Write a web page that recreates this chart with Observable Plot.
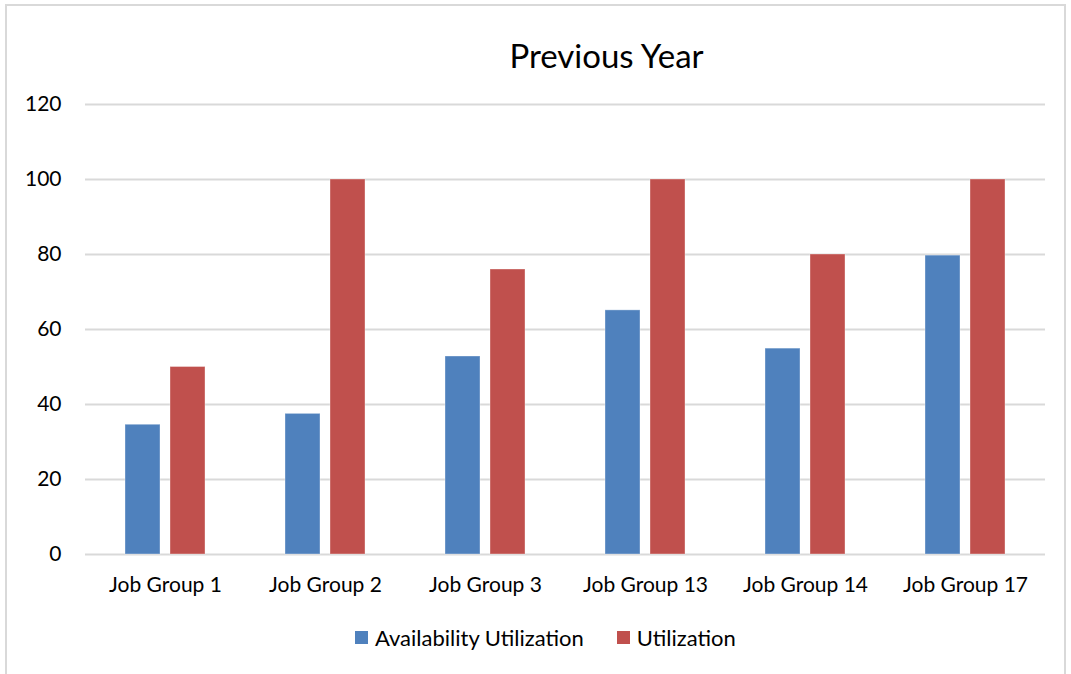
<!DOCTYPE html>
<html><head><meta charset="utf-8">
<script src="https://cdn.jsdelivr.net/npm/d3@7"></script>
<script src="https://cdn.jsdelivr.net/npm/@observablehq/plot@0.6"></script>
<style>
body{margin:0;background:#fff;font-family:Lato,"Open Sans",sans-serif;}
#frame{position:absolute;left:5px;top:4px;width:1061px;height:700px;border:2px solid #d9d9d9;box-sizing:border-box;}
#title{position:absolute;left:0;width:1071px;top:35px;text-align:center;font-size:33px;color:#000;padding-left:142px;box-sizing:border-box;line-height:40px;}
#chart{position:absolute;left:0;top:84px;}
#legend{position:absolute;left:355px;top:624px;display:flex;align-items:center;font-size:22px;color:#000;}
.sw{display:inline-block;width:13px;height:13px;margin-right:7px;}
.item{display:flex;align-items:center;margin-right:33px;}
</style></head>
<body>
<div id="frame"></div>
<div id="title">Previous Year</div>
<div id="chart"></div>
<div id="legend"></div>
<script>
const categories = ["Job Group 1","Job Group 2","Job Group 3","Job Group 13","Job Group 14","Job Group 17"];
const seriesNames = ["Availability Utilization","Utilization"];
const availability = [34.6, 37.5, 52.8, 65.1, 54.9, 79.7];
const utilization = [50, 100, 76, 100, 80, 100];
const seriesColors = ["#4F81BD","#C0504D"];
const yTicks = [0,20,40,60,80,100,120];

const data = [];
categories.forEach((c,i)=>{
  data.push({cat:c, series:seriesNames[0], value:availability[i]});
  data.push({cat:c, series:seriesNames[1], value:utilization[i]});
});

const plot = Plot.plot({
  width:1071, height:520,
  marginTop:20, marginBottom:50, marginLeft:82, marginRight:24,
  style:{fontFamily:"Lato, 'Open Sans', sans-serif", fontSize:"21px", color:"#000", background:"transparent"},
  fx:{domain:categories, padding:0, label:null, tickSize:0, tickPadding:23, axis:"bottom"},
  x:{domain:seriesNames, paddingInner:0.2174, paddingOuter:0.8565, axis:null},
  y:{domain:[0,120], ticks:yTicks, tickSize:0, tickPadding:24, label:null, grid:false},
  color:{domain:seriesNames, range:seriesColors},
  marks:[
    Plot.ruleY(yTicks,{stroke:"#d9d9d9", strokeWidth:1.8}),
    Plot.barY(data,{fx:"cat", x:"series", y:"value", fill:"series", stroke:"#ffffff", strokeOpacity:0.35, strokeWidth:1})
  ]
});
document.getElementById("chart").appendChild(plot);

const leg = document.getElementById("legend");
seriesNames.forEach((s,i)=>{
  const it = document.createElement("div"); it.className="item";
  const sw = document.createElement("span"); sw.className="sw"; sw.style.background=seriesColors[i];
  it.appendChild(sw); it.appendChild(document.createTextNode(s));
  leg.appendChild(it);
});
</script>
</body></html>
